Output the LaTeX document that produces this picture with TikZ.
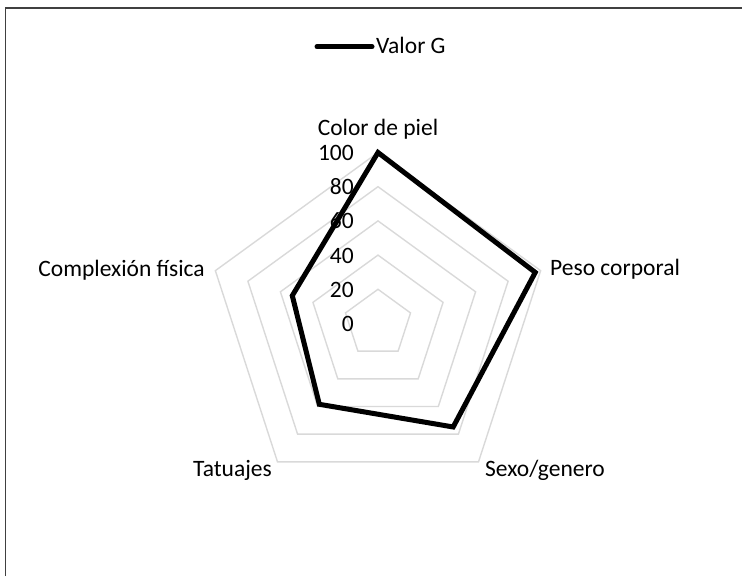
\documentclass[tikz,border=0pt]{standalone}
\usepackage{fontspec}
\setmainfont{Carlito}
\begin{document}
\begin{tikzpicture}[x=1pt,y=1pt,
  lbl/.style={inner sep=0pt,font=\fontsize{23.5}{28}\selectfont},
  ring/.style={draw=black!15,line width=1.4pt,line join=miter},
  serie/.style={draw=black,line width=5pt,line join=miter},
  frameline/.style={draw=black!75,line width=1.3pt}]
\useasboundingbox (0,0) rectangle (742,576);
% frame (left and top edges only visible)
\coordinate (fb) at (5.5,0);
\coordinate (fc) at (5.5,568);
\coordinate (fr) at (742,568);
\draw[frameline] (fb) -- (fc) -- (fr);
% legend
\coordinate (lg1) at (317,529.3);
\coordinate (lg2) at (372,529.3);
\draw[black,line width=5pt,line cap=round] (lg1) -- (lg2);
\node[lbl,anchor=base west] (legtext) at (376,522) {Valor G};
% radar
\begin{scope}[shift={(378,252.5)}]
  \foreach \k in {1,...,5}{
    \draw[ring] (90:{34.2*\k}) -- (18:{34.2*\k}) -- (-54:{34.2*\k}) -- (-126:{34.2*\k}) -- (162:{34.2*\k}) -- cycle;
  }
  \coordinate (vColor) at (90:171);
  \coordinate (vPeso) at (18:{1.71*96.7});
  \coordinate (vSexo) at (-54:{1.71*74.8});
  \coordinate (vTat) at (-126:{1.71*58.4});
  \coordinate (vComp) at (162:{1.71*52.7});
  \draw[serie] (vColor) -- (vPeso) -- (vSexo) -- (vTat) -- (vComp) -- cycle;
\end{scope}
% axis values
\foreach \v [count=\k from 0] in {0,20,40,60,80,100}{
  \node[lbl,anchor=base east] (ax\v) at (354,{244.5+34.2*\k}) {\v};
}
% category labels
\node[lbl,anchor=base] (cColor) at (378,440) {Color de piel};
\node[lbl,anchor=base west] (cPeso) at (550,300) {Peso corporal};
\node[lbl,anchor=base west] (cSexo) at (485,99) {Sexo/genero};
\node[lbl,anchor=base east] (cTat) at (272,99) {Tatuajes};
\node[lbl,anchor=base east] (cComp) at (205,299) {Complexión física};
\end{tikzpicture}
\end{document}
